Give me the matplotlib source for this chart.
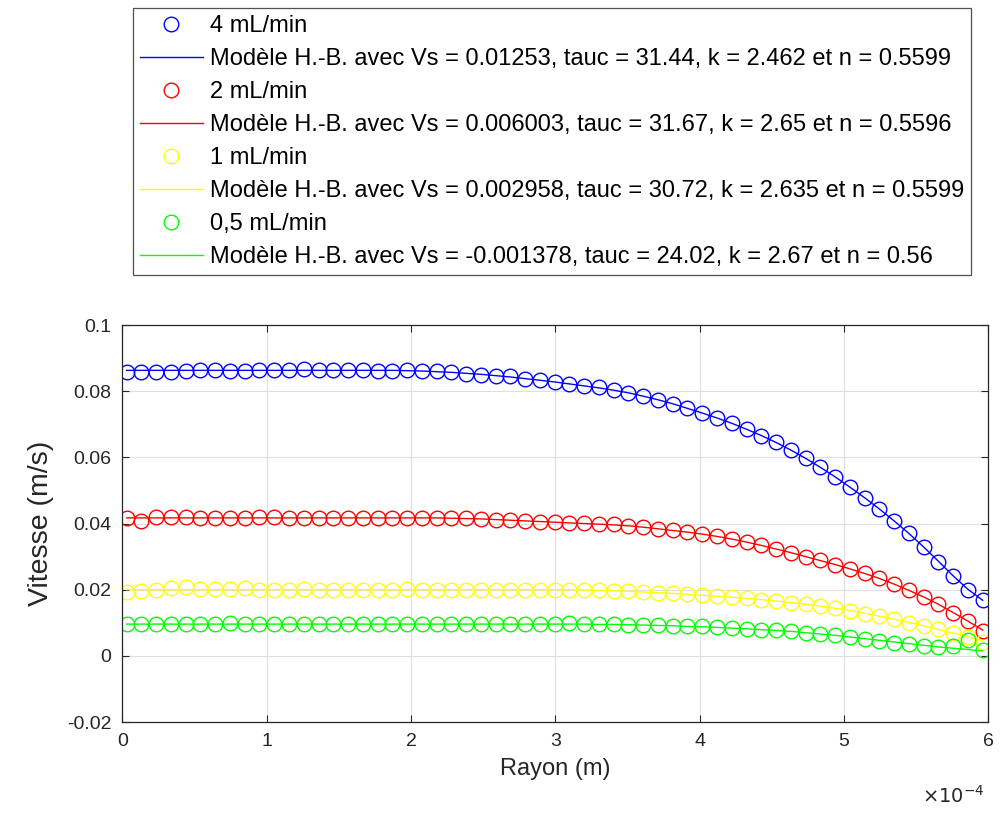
import matplotlib
matplotlib.use("Agg")
import matplotlib.pyplot as plt
from matplotlib.ticker import FuncFormatter

plt.rcParams['font.family'] = ['Liberation Sans', 'DejaVu Sans']
plt.rcParams['axes.unicode_minus'] = False

# rayon des points de mesure (micrometres)
rayon_um = [3.0, 13.2, 23.4, 33.7, 43.9, 54.1, 64.3, 74.6, 84.8, 95.0,
            105.2, 115.5, 125.7, 135.9, 146.1, 156.4, 166.6, 176.8, 187.0, 197.3,
            207.5, 217.7, 227.9, 238.2, 248.4, 258.6, 268.8, 279.0, 289.3, 299.5,
            309.7, 319.9, 330.2, 340.4, 350.6, 360.8, 371.1, 381.3, 391.5, 401.7,
            412.0, 422.2, 432.4, 442.6, 452.9, 463.1, 473.3, 483.5, 493.8, 504.0,
            514.2, 524.4, 534.6, 544.9, 555.1, 565.3, 575.5, 585.8, 596.0]

# mesures (m/s)
v_4 = [0.0857, 0.0857, 0.0857, 0.0857, 0.0860, 0.0865, 0.0865, 0.0862, 0.0860, 0.0863,
       0.0865, 0.0865, 0.0867, 0.0863, 0.0863, 0.0863, 0.0865, 0.0862, 0.0862, 0.0863,
       0.0862, 0.0860, 0.0857, 0.0853, 0.0850, 0.0847, 0.0845, 0.0837, 0.0833, 0.0827,
       0.0823, 0.0817, 0.0812, 0.0804, 0.0795, 0.0785, 0.0773, 0.0761, 0.0748, 0.0734,
       0.0719, 0.0703, 0.0685, 0.0666, 0.0645, 0.0622, 0.0597, 0.0570, 0.0541, 0.0510,
       0.0478, 0.0444, 0.0408, 0.0370, 0.0328, 0.0285, 0.0240, 0.0200, 0.0170]
v_2 = [0.0416, 0.0408, 0.0421, 0.0421, 0.0421, 0.0416, 0.0416, 0.0416, 0.0416, 0.0420,
       0.0420, 0.0416, 0.0416, 0.0418, 0.0416, 0.0418, 0.0416, 0.0416, 0.0418, 0.0416,
       0.0416, 0.0416, 0.0416, 0.0416, 0.0414, 0.0411, 0.0410, 0.0407, 0.0406, 0.0405,
       0.0403, 0.0402, 0.0400, 0.0398, 0.0394, 0.0390, 0.0384, 0.0379, 0.0374, 0.0369,
       0.0362, 0.0354, 0.0344, 0.0334, 0.0323, 0.0312, 0.0300, 0.0289, 0.0276, 0.0263,
       0.0249, 0.0234, 0.0218, 0.0199, 0.0178, 0.0156, 0.0131, 0.0104, 0.0076]
v_1 = [0.0194, 0.0197, 0.0200, 0.0205, 0.0207, 0.0202, 0.0202, 0.0202, 0.0205, 0.0198,
       0.0200, 0.0200, 0.0201, 0.0200, 0.0200, 0.0200, 0.0199, 0.0200, 0.0200, 0.0201,
       0.0200, 0.0200, 0.0200, 0.0200, 0.0200, 0.0200, 0.0200, 0.0200, 0.0200, 0.0200,
       0.0200, 0.0199, 0.0199, 0.0197, 0.0195, 0.0193, 0.0191, 0.0189, 0.0187, 0.0183,
       0.0180, 0.0177, 0.0174, 0.0170, 0.0166, 0.0161, 0.0156, 0.0150, 0.0144, 0.0137,
       0.0128, 0.0120, 0.0110, 0.0100, 0.0090, 0.0080, 0.0069, 0.0057, 0.0043]
v_05 = [0.0096, 0.0096, 0.0097, 0.0096, 0.0096, 0.0097, 0.0096, 0.0100, 0.0096, 0.0096,
        0.0097, 0.0096, 0.0096, 0.0096, 0.0097, 0.0096, 0.0096, 0.0096, 0.0096, 0.0097,
        0.0096, 0.0096, 0.0096, 0.0096, 0.0097, 0.0096, 0.0096, 0.0096, 0.0097, 0.0097,
        0.0098, 0.0097, 0.0096, 0.0095, 0.0094, 0.0094, 0.0092, 0.0091, 0.0089, 0.0089,
        0.0086, 0.0084, 0.0082, 0.0079, 0.0077, 0.0074, 0.0070, 0.0066, 0.0062, 0.0057,
        0.0051, 0.0046, 0.0040, 0.0035, 0.0030, 0.0028, 0.0030, 0.0049, 0.0018]

# modeles Herschel-Bulkley (m/s)
m_4 = [0.0863, 0.0863, 0.0863, 0.0863, 0.0863, 0.0863, 0.0863, 0.0863, 0.0863, 0.0863,
       0.0863, 0.0863, 0.0863, 0.0863, 0.0863, 0.0863, 0.0863, 0.0863, 0.0863, 0.0862,
       0.0861, 0.0859, 0.0857, 0.0854, 0.0851, 0.0847, 0.0843, 0.0838, 0.0833, 0.0828,
       0.0822, 0.0816, 0.0810, 0.0803, 0.0795, 0.0785, 0.0774, 0.0762, 0.0748, 0.0734,
       0.0719, 0.0703, 0.0685, 0.0666, 0.0645, 0.0622, 0.0597, 0.0570, 0.0541, 0.0510,
       0.0478, 0.0444, 0.0408, 0.0370, 0.0329, 0.0286, 0.0242, 0.0201, 0.0168]
m_2 = [0.0417, 0.0417, 0.0417, 0.0417, 0.0417, 0.0417, 0.0417, 0.0417, 0.0417, 0.0417,
       0.0417, 0.0417, 0.0417, 0.0417, 0.0417, 0.0417, 0.0417, 0.0417, 0.0417, 0.0417,
       0.0417, 0.0417, 0.0416, 0.0415, 0.0414, 0.0412, 0.0410, 0.0408, 0.0406, 0.0404,
       0.0402, 0.0400, 0.0398, 0.0396, 0.0393, 0.0389, 0.0384, 0.0379, 0.0374, 0.0368,
       0.0361, 0.0353, 0.0344, 0.0334, 0.0323, 0.0312, 0.0300, 0.0288, 0.0276, 0.0263,
       0.0249, 0.0234, 0.0217, 0.0198, 0.0178, 0.0156, 0.0131, 0.0105, 0.0078]
m_1 = [0.0200, 0.0200, 0.0200, 0.0200, 0.0200, 0.0200, 0.0200, 0.0200, 0.0200, 0.0200,
       0.0200, 0.0200, 0.0200, 0.0200, 0.0200, 0.0200, 0.0200, 0.0200, 0.0200, 0.0200,
       0.0200, 0.0200, 0.0200, 0.0200, 0.0200, 0.0200, 0.0200, 0.0200, 0.0200, 0.0200,
       0.0200, 0.0199, 0.0198, 0.0197, 0.0195, 0.0193, 0.0191, 0.0189, 0.0186, 0.0183,
       0.0180, 0.0177, 0.0174, 0.0170, 0.0166, 0.0161, 0.0156, 0.0150, 0.0144, 0.0137,
       0.0129, 0.0120, 0.0111, 0.0101, 0.0091, 0.0080, 0.0069, 0.0057, 0.0045]
m_05 = [0.0096, 0.0096, 0.0096, 0.0096, 0.0096, 0.0096, 0.0096, 0.0096, 0.0096, 0.0096,
        0.0096, 0.0096, 0.0096, 0.0096, 0.0096, 0.0096, 0.0096, 0.0096, 0.0096, 0.0096,
        0.0096, 0.0096, 0.0096, 0.0096, 0.0096, 0.0096, 0.0096, 0.0096, 0.0096, 0.0096,
        0.0096, 0.0096, 0.0095, 0.0095, 0.0094, 0.0093, 0.0092, 0.0091, 0.0089, 0.0088,
        0.0086, 0.0084, 0.0082, 0.0079, 0.0077, 0.0074, 0.0070, 0.0066, 0.0062, 0.0057,
        0.0052, 0.0047, 0.0042, 0.0037, 0.0032, 0.0027, 0.0023, 0.0019, 0.0015]

labels_data = ['4 mL/min', '2 mL/min', '1 mL/min', '0,5 mL/min']
labels_model = [
    'Modèle H.-B. avec Vs = 0.01253, tauc = 31.44, k = 2.462 et n = 0.5599',
    'Modèle H.-B. avec Vs = 0.006003, tauc = 31.67, k = 2.65 et n = 0.5596',
    'Modèle H.-B. avec Vs = 0.002958, tauc = 30.72, k = 2.635 et n = 0.5599',
    'Modèle H.-B. avec Vs = -0.001378, tauc = 24.02, k = 2.67 et n = 0.56',
]
colors = ['#0000ff', '#ff0000', '#ffff00', '#00ff00']
xticks = [0, 1, 2, 3, 4, 5, 6]  # x 1e-4 m
yticks = [-0.02, 0, 0.02, 0.04, 0.06, 0.08, 0.1]

rayon = [r * 1e-6 for r in rayon_um]
data = [v_4, v_2, v_1, v_05]
models = [m_4, m_2, m_1, m_05]

fig = plt.figure(figsize=(10.01, 8.13), dpi=100)
ax = fig.add_axes([0.1222, 0.1119, 0.8653, 0.4883])

handles = []
for v, m, c, ld, lm in zip(data, models, colors, labels_data, labels_model):
    h1, = ax.plot(rayon, v, 'o', mfc='none', mec=c, ms=10.5, mew=1.0, label=ld)
    h2, = ax.plot(rayon, m, '-', color=c, lw=1.0, label=lm)
    handles += [h1, h2]

ax.set_xlim(0, 6e-4)
ax.set_ylim(-0.02, 0.1)
ax.set_xticks([t * 1e-4 for t in xticks])
ax.set_yticks(yticks)
ax.xaxis.set_major_formatter(FuncFormatter(lambda x, p: '%g' % round(x / 1e-4, 3)))
ax.yaxis.set_major_formatter(FuncFormatter(lambda y, p: '%g' % round(y, 4)))
ax.text(0.996, -0.204, r'$\times10^{-4}$', transform=ax.transAxes, ha='right',
        va='baseline', fontsize=14, color='#262626')

ax.grid(True, color='#dfdfdf', lw=0.8)
ax.set_axisbelow(True)
ax.tick_params(direction='in', top=True, right=True, labelsize=14,
               colors='#262626', length=5, width=0.8, pad=8)
for s in ax.spines.values():
    s.set_color('#262626')
    s.set_linewidth(0.9)

ax.set_xlabel('Rayon (m)', fontsize=17, color='#262626', labelpad=6)
ax.set_ylabel('Vitesse (m/s)', fontsize=20.5, color='#262626', labelpad=9)

leg = fig.legend(handles=handles, loc='upper center', bbox_to_anchor=(0.5515, 0.990),
                 fontsize=17, frameon=True, fancybox=False, edgecolor='#262626',
                 handlelength=2.67, labelspacing=0.465, borderpad=0.3,
                 handletextpad=0.3, borderaxespad=0.0)
leg.get_frame().set_linewidth(0.9)

fig.savefig('out.png', dpi=100)
